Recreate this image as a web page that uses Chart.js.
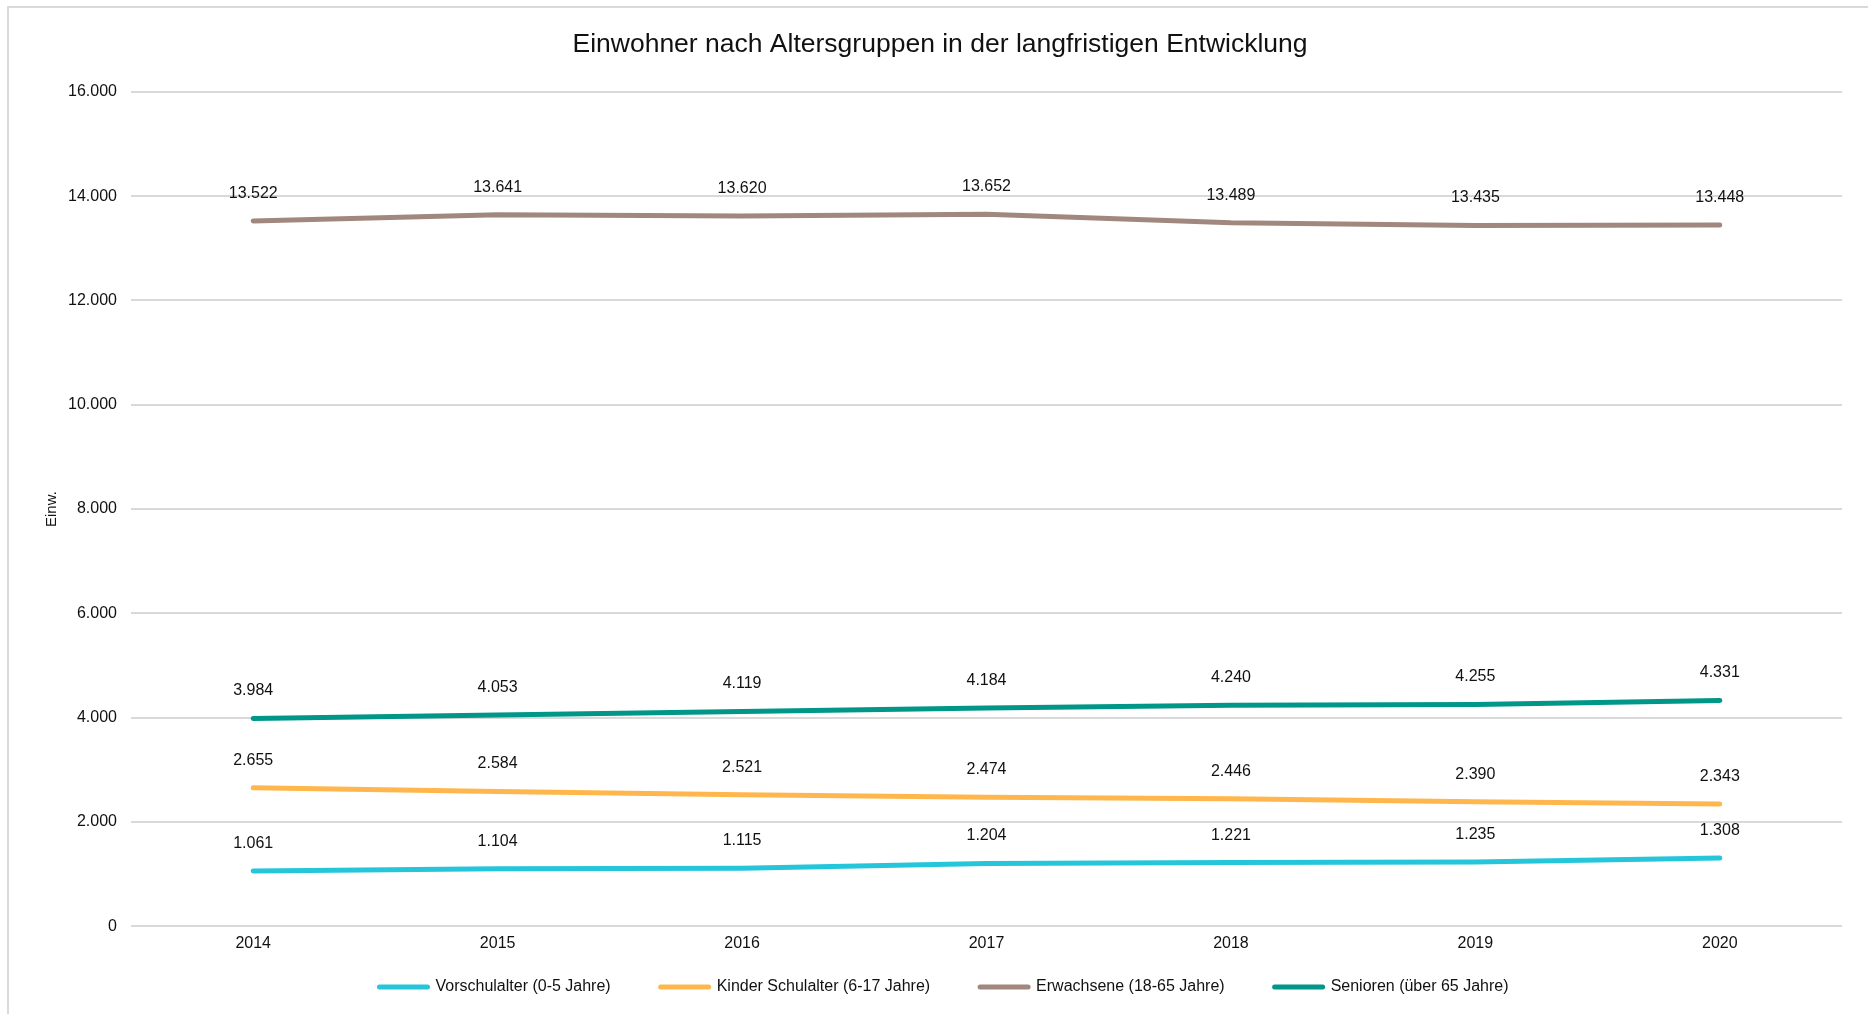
<!DOCTYPE html>
<html lang="de">
<head>
<meta charset="utf-8">
<title>Einwohner nach Altersgruppen</title>
<script src="https://cdn.jsdelivr.net/npm/chart.js@4.4.1/dist/chart.umd.min.js"></script>
<style>
  html, body { margin: 0; padding: 0; background: #fff; overflow: hidden; }
  #wrap { position: relative; width: 1868px; height: 1014px; }
  #frame {
    position: absolute; left: 7px; top: 6px; right: 0; bottom: 0;
    border-left: 2px solid #d9d9d9; border-top: 2px solid #d9d9d9;
    pointer-events: none;
  }
  #myChart { position: absolute; left: 0; top: 0; }
</style>
</head>
<body>
<div id="wrap">
  <div id="frame"></div>
  <canvas id="myChart" width="1868" height="1014"></canvas>
</div>
<script>
// Jahre und Einwohnerzahlen je Altersgruppe
const jahre = ['2014', '2015', '2016', '2017', '2018', '2019', '2020'];
const vorschulalter = [1061, 1104, 1115, 1204, 1221, 1235, 1308];
const kinderSchulalter = [2655, 2584, 2521, 2474, 2446, 2390, 2343];
const erwachsene = [13522, 13641, 13620, 13652, 13489, 13435, 13448];
const senioren = [3984, 4053, 4119, 4184, 4240, 4255, 4331];
const yTicks = [0, 2000, 4000, 6000, 8000, 10000, 12000, 14000, 16000];

const FONT = '"Liberation Sans", Arial, sans-serif';
const TEXT = '#111';

// Tausenderpunkt wie im Deutschen: 13522 -> 13.522
function formatZahl(v) {
    return String(Math.round(v)).replace(/\B(?=(\d{3})+(?!\d))/g, '.');
}

function serie(label, data, color) {
    return {
        label: label,
        data: data,
        borderColor: color,
        backgroundColor: color,
        borderWidth: 5,
        borderCapStyle: 'round',
        borderJoinStyle: 'round',
        tension: 0,
        pointRadius: 0,
        pointHoverRadius: 0,
        fill: false
    };
}

// Werte ueber den Punkten anschreiben
const wertLabels = {
    id: 'wertLabels',
    afterDatasetsDraw(chart) {
        const ctx = chart.ctx;
        ctx.save();
        ctx.font = '16px ' + FONT;
        ctx.fillStyle = TEXT;
        ctx.textAlign = 'center';
        ctx.textBaseline = 'middle';
        chart.data.datasets.forEach((ds, i) => {
            const meta = chart.getDatasetMeta(i);
            meta.data.forEach((pt, j) => {
                ctx.fillText(formatZahl(ds.data[j]), pt.x, pt.y - 27.5);
            });
        });
        ctx.restore();
    }
};

// Legende unten: kurze Linie + Text, Eintraege nebeneinander zentriert
const legendeUnten = {
    id: 'legendeUnten',
    afterDraw(chart, args, opts) {
        const ctx = chart.ctx;
        const linie = 48, abstandText = 8, abstand = 50;
        ctx.save();
        ctx.font = '16px ' + FONT;
        const items = chart.data.datasets.map(ds => ({
            text: ds.label,
            color: ds.borderColor,
            w: linie + abstandText + ctx.measureText(ds.label).width
        }));
        const gesamt = items.reduce((s, it) => s + it.w, 0) + abstand * (items.length - 1);
        let x = opts.mitte - gesamt / 2;
        const y = opts.y;
        ctx.textBaseline = 'middle';
        ctx.textAlign = 'left';
        items.forEach(it => {
            ctx.beginPath();
            ctx.lineWidth = 5;
            ctx.lineCap = 'round';
            ctx.strokeStyle = it.color;
            ctx.moveTo(x, y);
            ctx.lineTo(x + linie, y);
            ctx.stroke();
            ctx.fillStyle = TEXT;
            ctx.fillText(it.text, x + linie + abstandText, y);
            x += it.w + abstand;
        });
        ctx.restore();
    }
};

const ctx = document.getElementById('myChart').getContext('2d');
new Chart(ctx, {
    type: 'line',
    data: {
        labels: jahre,
        datasets: [
            serie('Vorschulalter (0-5 Jahre)', vorschulalter, '#26c6da'),
            serie('Kinder Schulalter (6-17 Jahre)', kinderSchulalter, '#ffb74d'),
            serie('Erwachsene (18-65 Jahre)', erwachsene, '#a1887f'),
            serie('Senioren (über 65 Jahre)', senioren, '#009688')
        ]
    },
    options: {
        responsive: false,
        animation: false,
        layout: { padding: { left: 38, right: 26, top: 0, bottom: 52.5 } },
        plugins: {
            title: {
                display: true,
                text: 'Einwohner nach Altersgruppen in der langfristigen Entwicklung',
                color: TEXT,
                font: { family: FONT, size: 26.5, weight: 'normal', lineHeight: 1.2 },
                padding: { top: 29, bottom: 31 }
            },
            legend: { display: false },
            legendeUnten: { mitte: 944, y: 987 },
            tooltip: { enabled: false }
        },
        scales: {
            x: {
                offset: true,
                grid: { display: false, drawTicks: false },
                border: { display: false },
                ticks: {
                    padding: 8,
                    color: TEXT,
                    font: { family: FONT, size: 16 }
                }
            },
            y: {
                min: 0,
                max: 16000,
                afterBuildTicks(scale) {
                    scale.ticks = yTicks.map(v => ({ value: v }));
                },
                grid: { color: '#d9d9d9', lineWidth: 2, drawTicks: false },
                border: { display: false },
                ticks: {
                    padding: 14,
                    color: TEXT,
                    font: { family: FONT, size: 16 },
                    callback: v => formatZahl(v)
                },
                title: {
                    display: true,
                    text: 'Einw.',
                    color: TEXT,
                    font: { family: FONT, size: 15 },
                    padding: { top: 5, bottom: 0 }
                },
                afterFit(scale) { scale.width = 93; }
            }
        }
    },
    plugins: [wertLabels, legendeUnten]
});
</script>
</body>
</html>
